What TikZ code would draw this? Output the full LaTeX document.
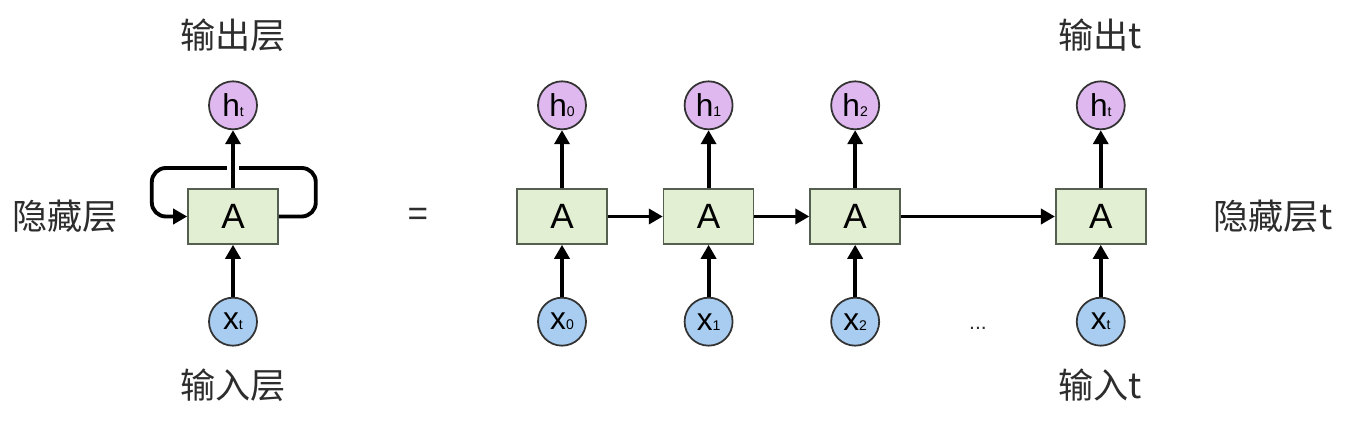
\documentclass[tikz,border=0pt]{standalone}
\usepackage{fontspec}
\setsansfont{Liberation Sans}
\newfontfamily\cjk{Noto Sans CJK SC}
\usetikzlibrary{arrows.meta, positioning}
\definecolor{rnngreen}{RGB}{226,239,210}
\definecolor{rnnedge}{RGB}{85,95,80}
\definecolor{rnnpink}{RGB}{222,184,238}
\definecolor{rnnblue}{RGB}{168,205,240}
\definecolor{rnntext}{RGB}{45,45,45}
\newcommand{\rnnsub}[1]{{\fontsize{8}{8}\selectfont #1}}
\begin{document}
\begin{tikzpicture}[node distance=1.1cm,
  cell/.style={rectangle, draw=rnnedge, fill=rnngreen, line width=0.9pt, minimum width=1.8cm, minimum height=1.1cm, inner sep=0pt, font=\sffamily\fontsize{20}{20}\selectfont},
  hstate/.style={circle, draw=black!80, fill=rnnpink, line width=1pt, minimum size=0.96cm, inner sep=0pt, font=\sffamily\fontsize{18}{18}\selectfont},
  xinput/.style={hstate, fill=rnnblue},
  layername/.style={text=rnntext, font=\cjk\fontsize{20}{20}\selectfont},
  arrow/.style={-{Triangle[length=2.8mm, width=3mm]}, line width=2.2pt}
]
\useasboundingbox (0,0) rectangle (27,8.4);
% folded network
\node[cell] (cell) at (4.66,4.07) {A};
\node[hstate, above=1.16cm of cell] (hout) {h\rnnsub{t}};
\node[xinput, below=1.04cm of cell] (xin) {x\rnnsub{t}};
\draw[arrow, rounded corners=8pt] (cell.east) -- ++(0.74,0) -- ++(0,0.97) -- ++(-3.28,0) -- ++(0,-0.97) -- (cell.west);
\draw[white, line width=7pt] (cell.north) -- ++(0,0.5);
\draw[arrow] (cell) -- (hout);
\draw[arrow] (xin) -- (cell);
\node[layername] (outlabel) at (4.66,7.7) {输出层};
\node[layername] (hidlabel) at (1.3,4.07) {隐藏层};
\node[layername] (inlabel) at (4.66,0.7) {输入层};
\node[text=rnntext, font=\sffamily\fontsize{20}{20}\selectfont] (eq) at (8.36,4.07) {=};
% unrolled network
\node[cell] (cell0) at (11.24,4.07) {A};
\node[cell, right=of cell0] (cell1) {A};
\node[cell, right=of cell1] (cell2) {A};
\node[cell, right=3.08cm of cell2] (cellt) {A};
\node[hstate, above=1.16cm of cell0] (h0) {h\rnnsub{0}};
\node[hstate, above=1.16cm of cell1] (h1) {h\rnnsub{1}};
\node[hstate, above=1.16cm of cell2] (h2) {h\rnnsub{2}};
\node[hstate, above=1.16cm of cellt] (ht) {h\rnnsub{t}};
\node[xinput, below=1.04cm of cell0] (x0) {x\rnnsub{0}};
\node[xinput, below=1.04cm of cell1] (x1) {x\rnnsub{1}};
\node[xinput, below=1.04cm of cell2] (x2) {x\rnnsub{2}};
\node[xinput, below=1.04cm of cellt] (xt) {x\rnnsub{t}};
\draw[arrow] (cell0) -- (h0);
\draw[arrow] (cell1) -- (h1);
\draw[arrow] (cell2) -- (h2);
\draw[arrow] (cellt) -- (ht);
\draw[arrow] (x0) -- (cell0);
\draw[arrow] (x1) -- (cell1);
\draw[arrow] (x2) -- (cell2);
\draw[arrow] (xt) -- (cellt);
\draw[arrow] (cell0) -- (cell1);
\draw[arrow] (cell1) -- (cell2);
\draw[arrow] (cell2) -- (cellt);
\node[text=rnntext, font=\sffamily\fontsize{12}{12}\selectfont] (dots) at (19.56,1.84) {...};
\node[layername] (outtlabel) at (22.0,7.7) {输出t};
\node[layername] (hidtlabel) at (25.46,4.07) {隐藏层t};
\node[layername] (intlabel) at (22.0,0.7) {输入t};
\end{tikzpicture}
\end{document}
